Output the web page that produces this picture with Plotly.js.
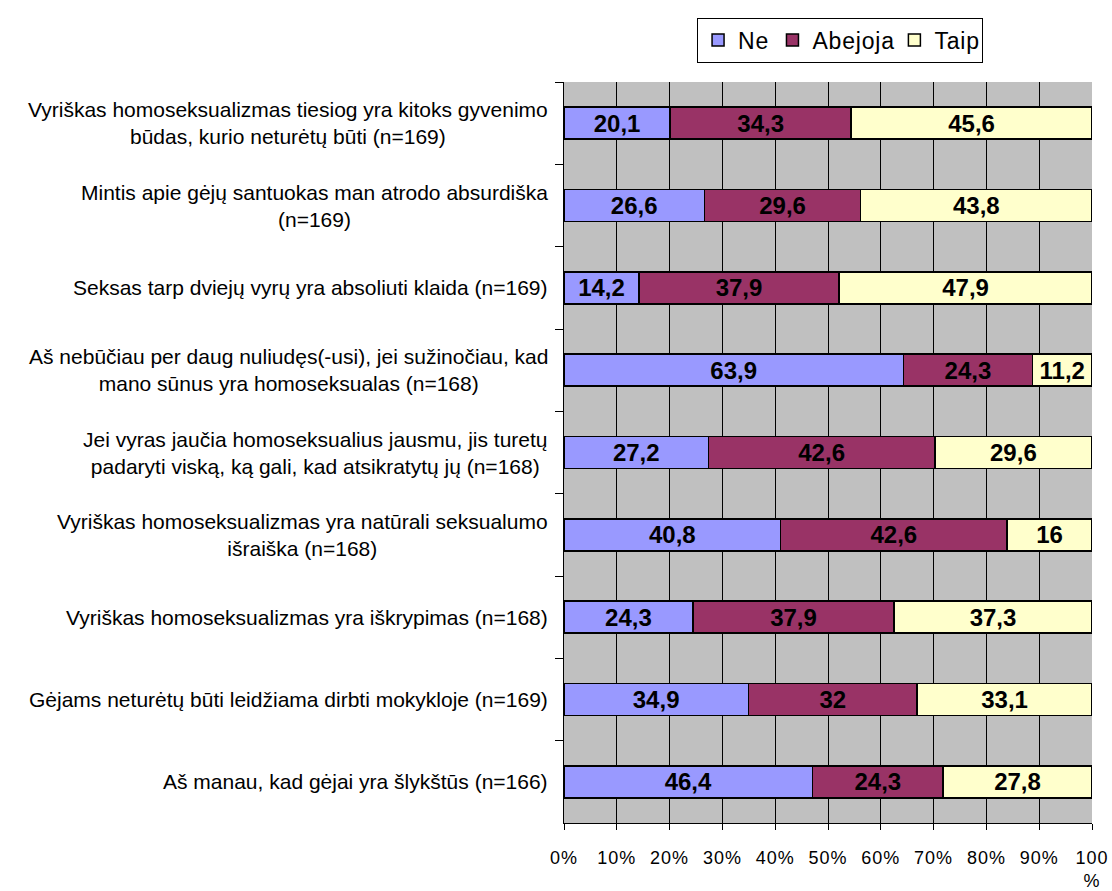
<!DOCTYPE html>
<html>
<head>
<meta charset="utf-8">
<script src="https://cdn.plot.ly/plotly-3.0.1.min.js"></script>
<style>
  html, body { margin: 0; padding: 0; background: #fff; }
  #chart { width: 1112px; height: 891px; }
  #chart .xtick text { letter-spacing: 1px; }
  #chart .legendtext { letter-spacing: 0.8px; }
</style>
</head>
<body>
<div id="chart"></div>
<script>
const statements = [
  'Vyriškas homoseksualizmas tiesiog yra kitoks gyvenimo<br>būdas, kurio neturėtų būti (n=169)',
  'Mintis apie gėjų santuokas man atrodo absurdiška<br>(n=169)',
  'Seksas tarp dviejų vyrų yra absoliuti klaida (n=169)',
  'Aš nebūčiau per daug nuliudęs(-usi), jei sužinočiau, kad<br>mano sūnus yra homoseksualas (n=168)',
  'Jei vyras jaučia homoseksualius jausmu, jis turetų<br>padaryti viską, ką gali, kad atsikratytų jų (n=168)',
  'Vyriškas homoseksualizmas yra natūrali seksualumo<br>išraiška (n=168)',
  'Vyriškas homoseksualizmas yra iškrypimas (n=168)',
  'Gėjams neturėtų būti leidžiama dirbti mokykloje (n=169)',
  'Aš manau, kad gėjai yra šlykštūs (n=166)'
];
const ne      = [20.1, 26.6, 14.2, 63.9, 27.2, 40.8, 24.3, 34.9, 46.4];
const abejoja = [34.3, 29.6, 37.9, 24.3, 42.6, 42.6, 37.9, 32,   24.3];
const taip    = [45.6, 43.8, 47.9, 11.2, 29.6, 16,   37.3, 33.1, 27.8];

const tickVals = [0, 10, 20, 30, 40, 50, 60, 70, 80, 90, 100];
const tickText = ['0%', '10%', '20%', '30%', '40%', '50%', '60%', '70%', '80%', '90%', '100<br>%'];

const fmt = v => String(v).replace('.', ',');

function series(name, vals, color) {
  return {
    type: 'bar',
    orientation: 'h',
    name: name,
    y: statements,
    x: vals,
    text: vals.map(fmt),
    textposition: 'inside',
    insidetextanchor: 'middle',
    textangle: 0,
    constraintext: 'none',
    textfont: {family: 'Liberation Sans, Arial, sans-serif', size: 24, color: '#000', weight: 'bold'},
    marker: {color: color, line: {color: '#000', width: 1.5}},
    hoverinfo: 'name+text'
  };
}

const data = [
  series('Ne', ne, '#9999FF'),
  series('Abejoja', abejoja, '#993366'),
  series('Taip', taip, '#FFFFCC')
];

const labelAnnotations = statements.map(s => ({
  xref: 'paper', yref: 'y',
  x: 0, y: s,
  xanchor: 'right', xshift: -14,
  align: 'center',
  text: s,
  showarrow: false,
  font: {family: 'Liberation Sans, Arial, sans-serif', size: 21, color: '#000'}
}));

const layout = {
  width: 1112,
  height: 891,
  paper_bgcolor: '#fff',
  plot_bgcolor: '#C0C0C0',
  barmode: 'stack',
  barnorm: 'percent',
  bargap: 0.61,
  font: {family: 'Liberation Sans, Arial, sans-serif', size: 19, color: '#000'},
  margin: {l: 564, r: 20, t: 82, b: 68},
  showlegend: true,
  legend: {
    orientation: 'h',
    x: 0.252, y: 1.087,
    xanchor: 'left', yanchor: 'top',
    bordercolor: '#000', borderwidth: 1,
    bgcolor: '#fff',
    font: {size: 23},
    itemwidth: 30,
    traceorder: 'normal'
  },
  xaxis: {
    range: [0, 100],
    tickvals: tickVals,
    ticktext: tickText,
    ticks: 'outside', ticklen: 6, tickcolor: '#000',
    ticklabelstandoff: 12,
    showgrid: true, gridcolor: '#000', gridwidth: 1,
    showline: true, linecolor: '#000', linewidth: 1,
    zeroline: false,
    tickfont: {size: 18},
    fixedrange: true
  },
  yaxis: {
    type: 'category',
    autorange: 'reversed',
    showticklabels: false,
    ticks: 'outside', ticklen: 8, tickcolor: '#000',
    tickson: 'boundaries',
    showgrid: false,
    showline: true, linecolor: '#000', linewidth: 1,
    fixedrange: true
  },
  annotations: labelAnnotations
};

Plotly.newPlot('chart', data, layout, {displayModeBar: false, responsive: false});
</script>
</body>
</html>
